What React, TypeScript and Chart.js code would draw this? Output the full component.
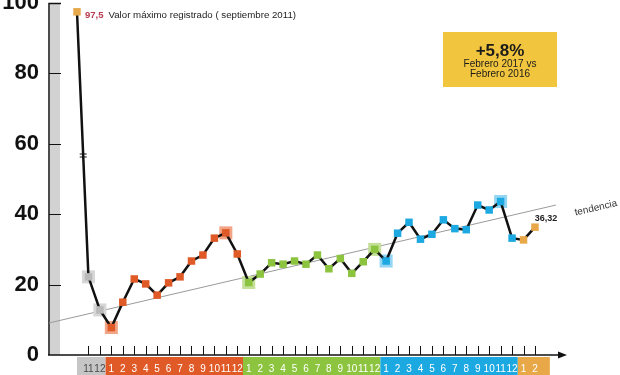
import React, { useEffect, useRef } from 'react';
import { Chart, registerables } from 'chart.js';

Chart.register(...registerables);

// ---- data ----
const MONTH_LABELS = ['', '11', '12',
  '1', '2', '3', '4', '5', '6', '7', '8', '9', '10', '11', '12',
  '1', '2', '3', '4', '5', '6', '7', '8', '9', '10', '11', '12',
  '1', '2', '3', '4', '5', '6', '7', '8', '9', '10', '11', '12',
  '1', '2'];

const PERIOD_OF_POINT = ['peak', 'p0', 'p0',
  'p1', 'p1', 'p1', 'p1', 'p1', 'p1', 'p1', 'p1', 'p1', 'p1', 'p1', 'p1',
  'p2', 'p2', 'p2', 'p2', 'p2', 'p2', 'p2', 'p2', 'p2', 'p2', 'p2', 'p2',
  'p3', 'p3', 'p3', 'p3', 'p3', 'p3', 'p3', 'p3', 'p3', 'p3', 'p3', 'p3',
  'p4', 'p4'];

const VALUES = [97.5, 22.2, 12.8,
  7.8, 15.0, 21.6, 20.2, 17.0, 20.5, 22.2, 26.7, 28.4, 33.2, 34.7, 28.7,
  20.6, 23.0, 26.2, 25.8, 26.7, 25.8, 28.4, 24.5, 27.4, 23.2, 26.5, 30.0,
  26.7, 34.6, 37.7, 32.9, 34.3, 38.4, 35.9, 35.6, 42.6, 41.2, 43.6, 33.2,
  32.7, 36.32];

const HIGHLIGHT_IDX = [1, 2, 3, 13, 15, 26, 27, 37];

const TREND_X = [-2.44, 41.83];
const TREND_Y = [9.1, 42.6];

const Y_TICKS = [0, 20, 40, 60, 80, 100];

const PEAK_LABEL = '97,5';
const PEAK_TEXT = 'Valor máximo registrado ( septiembre 2011)';
const LAST_LABEL = '36,32';
const TREND_LABEL = 'tendencia';
const BOX_TITLE = '+5,8%';
const BOX_LINES = ['Febrero 2017 vs', 'Febrero 2016'];

// ---- styles ----
const COLORS: Record<string, string> = {
  peak: '#e6a94c',
  p0: '#b9b9b9',
  p1: '#e05a28',
  p2: '#8cc43f',
  p3: '#1ca9e2',
  p4: '#e8a848',
};
const HALO: Record<string, string> = {
  peak: '#f0d0a0',
  p0: '#d6d6d6',
  p1: '#f2a486',
  p2: '#c3df98',
  p3: '#93d5f2',
  p4: '#f2cf96',
};
const BOX_COLORS: Record<string, string> = {
  p0: '#c6c6c6',
  p1: '#e05a28',
  p2: '#8cc43f',
  p3: '#1ca9e2',
  p4: '#e8a848',
};
const FONT = "'Liberation Sans', Arial, sans-serif";

const decorPlugin = {
  id: 'decor',
  beforeDraw(chart: any) {
    const { ctx, chartArea: ca, scales } = chart;
    const x = scales.x;
    ctx.save();
    // gray band by the y axis
    ctx.fillStyle = '#d2d2d2';
    ctx.fillRect(ca.left + 1, 3, 10, ca.bottom - 3);
    // colored boxes under months
    const periods = ['p0', 'p1', 'p2', 'p3', 'p4'];
    periods.forEach((p, k) => {
      const idx = PERIOD_OF_POINT.map((q, i) => (q === p ? i : -1)).filter((i) => i >= 0);
      let a = idx[0] - 0.5;
      let b = idx[idx.length - 1] + 0.5;
      if (k === 0) a -= 0.5;
      if (k === periods.length - 1) b += 0.8;
      const x0 = x.getPixelForValue(a);
      const x1 = x.getPixelForValue(b);
      ctx.fillStyle = BOX_COLORS[p];
      ctx.fillRect(x0, ca.bottom + 2, x1 - x0, chart.height - ca.bottom - 2);
    });
    ctx.restore();
  },
  beforeDatasetsDraw(chart: any) {
    const { ctx, chartArea: ca, scales } = chart;
    const x = scales.x;
    const y = scales.y;
    ctx.save();
    ctx.strokeStyle = '#111';
    // y axis
    ctx.lineWidth = 1.5;
    ctx.beginPath();
    ctx.moveTo(ca.left, 3);
    ctx.lineTo(ca.left, ca.bottom);
    ctx.moveTo(ca.left - 0.75, 3.5);
    ctx.lineTo(ca.left + 12, 3.5);
    ctx.stroke();
    ctx.lineWidth = 1.2;
    ctx.beginPath();
    Y_TICKS.slice(1, -1).forEach((v) => {
      const py = Math.round(y.getPixelForValue(v)) + 0.5;
      ctx.moveTo(ca.left, py);
      ctx.lineTo(ca.left + 12, py);
    });
    ctx.stroke();
    // x axis with arrow
    const ay = ca.bottom;
    ctx.lineWidth = 1.5;
    ctx.beginPath();
    ctx.moveTo(ca.left - 1, ay);
    ctx.lineTo(ca.right - 6, ay);
    ctx.stroke();
    ctx.fillStyle = '#111';
    ctx.beginPath();
    ctx.moveTo(ca.right - 8, ay - 3.5);
    ctx.lineTo(ca.right + 1, ay);
    ctx.lineTo(ca.right - 8, ay + 3.5);
    ctx.closePath();
    ctx.fill();
    // x ticks
    ctx.lineWidth = 1;
    ctx.beginPath();
    for (let i = 1; i < VALUES.length; i++) {
      const px = Math.round(x.getPixelForValue(i)) + 0.5;
      ctx.moveTo(px, ay - 9);
      ctx.lineTo(px, ay);
    }
    ctx.stroke();
    ctx.restore();
  },
  afterDatasetsDraw(chart: any) {
    const { ctx, scales } = chart;
    const x = scales.x;
    const y = scales.y;
    ctx.save();
    // axis break mark on the first segment
    const p0x = x.getPixelForValue(0), p0y = y.getPixelForValue(VALUES[0]);
    const p1x = x.getPixelForValue(1), p1y = y.getPixelForValue(VALUES[1]);
    const by = 155.5;
    const bx = p0x + ((by - p0y) / (p1y - p0y)) * (p1x - p0x);
    ctx.strokeStyle = '#111';
    ctx.lineWidth = 1.2;
    ctx.beginPath();
    ctx.moveTo(bx - 3.5, by - 1.5);
    ctx.lineTo(bx + 3.5, by - 1.5);
    ctx.moveTo(bx - 3.5, by + 1.5);
    ctx.lineTo(bx + 3.5, by + 1.5);
    ctx.stroke();

    // peak annotation
    ctx.textBaseline = 'middle';
    ctx.textAlign = 'left';
    ctx.font = `bold 9.5px ${FONT}`;
    ctx.fillStyle = '#b73a4e';
    const tx = p0x + 8;
    const ty = p0y + 4;
    ctx.fillText(PEAK_LABEL, tx, ty);
    const w = ctx.measureText(PEAK_LABEL).width;
    ctx.font = `9.7px ${FONT}`;
    ctx.fillStyle = '#222';
    ctx.fillText(PEAK_TEXT, tx + w + 5, ty);

    // last value label
    const lx = x.getPixelForValue(VALUES.length - 1);
    const ly = y.getPixelForValue(VALUES[VALUES.length - 1]);
    ctx.font = `bold 9px ${FONT}`;
    ctx.textAlign = 'center';
    ctx.fillStyle = '#222';
    ctx.fillText(LAST_LABEL, lx + 11, ly - 9);

    // trend label
    const ex = x.getPixelForValue(TREND_X[1]);
    const ey = y.getPixelForValue(TREND_Y[1]);
    ctx.save();
    ctx.translate(ex + 40, ey + 3);
    ctx.rotate(-13 * Math.PI / 180);
    ctx.font = `10px ${FONT}`;
    ctx.fillStyle = '#333';
    ctx.textAlign = 'center';
    ctx.fillText(TREND_LABEL, 0, 0);
    ctx.restore();

    // yellow box
    ctx.fillStyle = '#f2c53e';
    ctx.fillRect(443, 32, 114, 55);
    ctx.fillStyle = '#1a1a1a';
    ctx.textAlign = 'center';
    ctx.font = `bold 17px ${FONT}`;
    ctx.fillText(BOX_TITLE, 500, 51);
    ctx.font = `10px ${FONT}`;
    ctx.fillText(BOX_LINES[0], 500, 64);
    ctx.fillText(BOX_LINES[1], 500, 74);
    ctx.restore();
  },
};

export default function App() {
  const ref = useRef<HTMLCanvasElement | null>(null);
  useEffect(() => {
    if (!ref.current) return;
    const mainData = VALUES.map((v, i) => ({ x: i, y: v }));
    const haloData = HIGHLIGHT_IDX.map((i) => ({ x: i, y: VALUES[i] }));
    const chart = new Chart(ref.current, {
      type: 'line',
      data: {
        datasets: [
          {
            label: 'serie',
            data: mainData,
            borderColor: '#111',
            borderWidth: 2.5,
            tension: 0,
            pointStyle: 'rect',
            pointRadius: 5.3,
            pointBorderWidth: 0,
            pointBackgroundColor: PERIOD_OF_POINT.map((p) => COLORS[p]),
            order: 1,
            clip: false,
          },
          {
            label: 'extremos',
            data: haloData,
            showLine: false,
            pointStyle: 'rect',
            pointRadius: 9.2,
            pointBorderWidth: 0,
            pointBackgroundColor: HIGHLIGHT_IDX.map((i) => HALO[PERIOD_OF_POINT[i]]),
            order: 2,
            clip: false,
          },
          {
            label: 'tendencia',
            data: TREND_X.map((xv, i) => ({ x: xv, y: TREND_Y[i] })),
            borderColor: '#9a9a9a',
            borderWidth: 1,
            pointRadius: 0,
            order: 3,
            clip: false,
          },
        ],
      },
      options: {
        responsive: false,
        animation: false,
        layout: { autoPadding: false, padding: { left: 0, top: 3, right: 54, bottom: 0 } },
        plugins: { legend: { display: false }, tooltip: { enabled: false } },
        scales: {
          x: {
            type: 'linear',
            min: -2.445,
            max: 42.71,
            grid: { display: false },
            border: { display: false },
            afterFit: (s: any) => {
              s.height = 20;
              s.paddingLeft = 0;
              s.paddingRight = 0;
            },
            ticks: {
              stepSize: 1,
              includeBounds: false,
              autoSkip: false,
              maxRotation: 0,
              minRotation: 0,
              maxTicksLimit: 100,
              padding: 0,
              font: { family: FONT, size: 10 },
              color: (c: any) => (PERIOD_OF_POINT[c.tick?.value] === 'p0' ? '#4a4a4a' : '#ffffff'),
              callback: (v: any) => {
                const i = Number(v);
                if (!Number.isInteger(i) || i < 0 || i >= MONTH_LABELS.length) return null;
                return MONTH_LABELS[i];
              },
            },
          },
          y: {
            type: 'linear',
            min: 0,
            max: 100,
            grid: { display: false, drawTicks: false },
            border: { display: false },
            afterFit: (s: any) => {
              s.width = 49;
              s.paddingTop = 0;
              s.paddingBottom = 0;
            },
            ticks: {
              stepSize: 20,
              padding: 10,
              color: '#111',
              font: { family: FONT, size: 22, weight: 'bold' },
            },
          },
        },
      },
      plugins: [decorPlugin],
    });
    return () => chart.destroy();
  }, []);
  return (
    <div style={{ position: 'absolute', left: 0, top: 0, width: 620, height: 375, background: '#fff' }}>
      <canvas ref={ref} width={620} height={375} />
    </div>
  );
}
